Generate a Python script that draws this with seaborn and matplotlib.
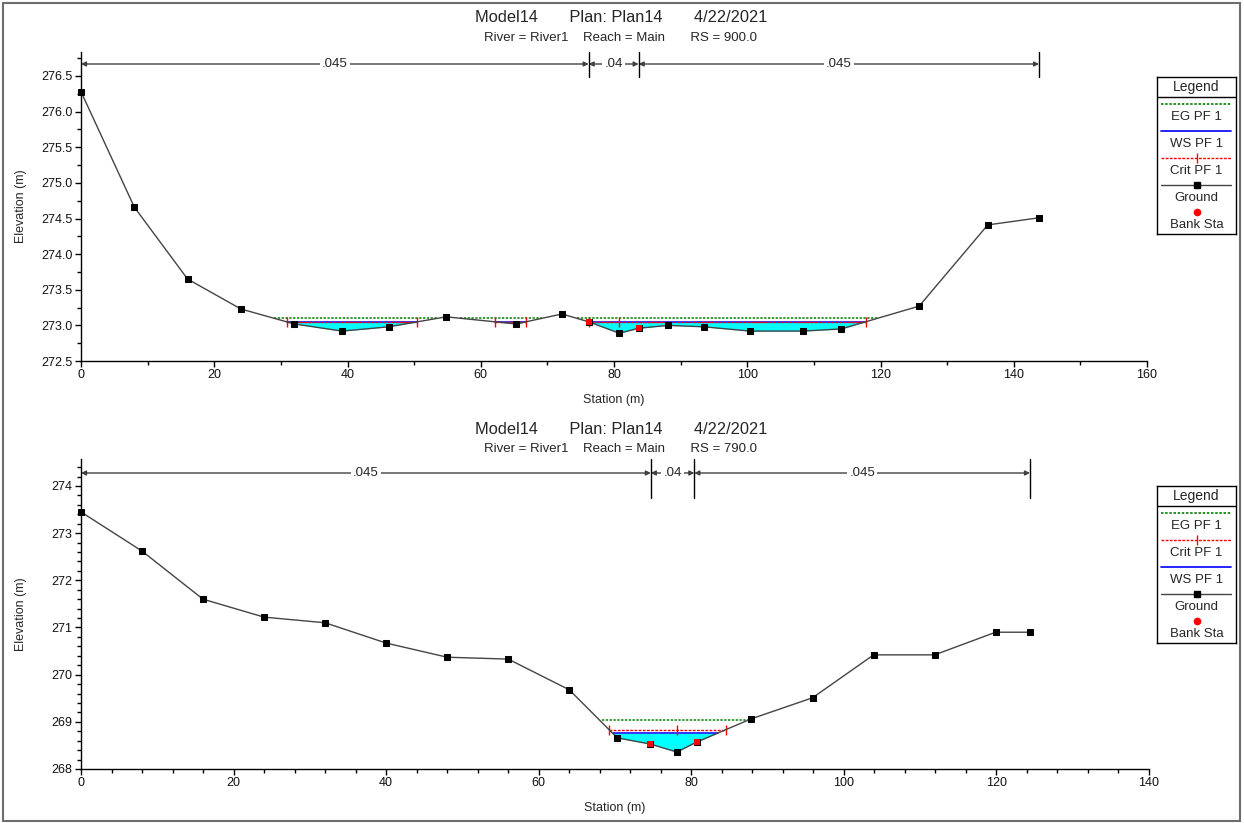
import numpy as np
import seaborn as sns
import matplotlib.pyplot as plt
from matplotlib.patches import Rectangle
from matplotlib.ticker import MultipleLocator

# ---- section RS 900.0 ----
sta_900 = [0, 8, 16, 24, 32, 39.2, 46.2, 54.8, 65.3, 72.2, 76.2, 80.8, 83.7,
           88.1, 93.5, 100.4, 108.4, 114.1, 125.8, 136.1, 143.8]
elev_900 = [276.28, 274.66, 273.65, 273.23, 273.02, 272.92, 272.98, 273.12, 273.02,
            273.16, 273.05, 272.89, 272.96, 273.00, 272.98, 272.92, 272.92, 272.95,
            273.27, 274.41, 274.51]
bank_900 = [76.2, 83.7]
bank_elev_900 = [273.05, 272.96]
ws_900 = 273.05
crit_900 = 273.05
eg_900 = 273.10
ws_seg_900 = [(30.9, 50.5), (62.1, 66.8), (76.2, 117.8)]
crit_pts_900 = [[30.9, 50.5], [62.1, 66.8], [76.2, 80.8, 117.8]]
eg_seg_900 = [(29.0, 53.6), (56.9, 69.2), (74.4, 119.6)]
n_bounds_900 = [0, 76.2, 83.7, 143.8]
n_vals_900 = [".045", ".04", ".045"]

# ---- section RS 790.0 ----
sta_790 = [0, 8, 16, 24, 32, 40, 48, 56, 64, 70.3, 74.6, 78.1, 80.7, 87.8, 95.9,
           103.9, 111.9, 119.9, 124.4]
elev_790 = [273.45, 272.62, 271.60, 271.22, 271.10, 270.67, 270.37, 270.33, 269.68,
            268.66, 268.53, 268.36, 268.57, 269.06, 269.51, 270.42, 270.42, 270.90,
            270.90]
bank_790 = [74.6, 80.7]
bank_elev_790 = [268.53, 268.57]
ws_790 = 268.76
crit_790 = 268.83
eg_790 = 269.04
ws_seg_790 = [(69.7, 83.45)]
crit_pts_790 = [[69.25, 78.1, 84.5]]
eg_seg_790 = [(68.3, 87.5)]
n_bounds_790 = [0, 74.7, 80.4, 124.4]
n_vals_790 = [".045", ".04", ".045"]

sns.set_theme(style="white")
plt.rcParams['font.family'] = ['Liberation Sans', 'DejaVu Sans']

W, H = 1244, 823
fig = plt.figure(figsize=(W / 100, H / 100), dpi=100)
fig.patches.append(Rectangle((3 / W, 2 / H), 1 - 7 / W, 1 - 5 / H, transform=fig.transFigure,
                             fill=False, edgecolor='#6e6e6e', linewidth=1.5))

GREEN = '#008000'
BLUE = '#0000ff'
RED = '#ff0000'
CYAN = '#00ffff'


def px_axes(left, top, right, bottom):
    return fig.add_axes([left / W, 1 - bottom / H, (right - left) / W, (bottom - top) / H])


def draw_section(ax, sta, elev, bank, bank_elev, ws, crit, eg, ws_seg, crit_pts, eg_seg,
                 bounds, nvals, arrow_y, div_low):
    sta = np.array(sta)
    elev = np.array(elev)
    # water fill
    for a, b in ws_seg:
        xs = np.concatenate([[a], sta[(sta > a) & (sta < b)], [b]])
        ax.fill_between(xs, ws, np.interp(xs, sta, elev), color=CYAN, linewidth=0, zorder=1)
    for a, b in eg_seg:
        ax.plot([a, b], [eg, eg], color=GREEN, lw=1.1, ls=(0, (1.5, 1)), zorder=2)
    for a, b in ws_seg:
        ax.plot([a, b], [ws, ws], color=BLUE, lw=1.1, zorder=2)
    for pts in crit_pts:
        ax.plot(pts, [crit] * len(pts), color=RED, lw=1.0, ls=(0, (2, 1)), marker='|',
                markersize=7, markeredgewidth=1.0, zorder=3)
    sns.lineplot(x=sta, y=elev, ax=ax, color='#444444', lw=1.0, marker='s', markersize=4.6,
                 markerfacecolor='black', markeredgecolor='black', sort=False, zorder=4,
                 clip_on=False)
    sns.scatterplot(x=bank, y=bank_elev, ax=ax, marker='s', s=22, color=RED, edgecolor=RED,
                    linewidth=0, zorder=5)
    # Manning's n brackets
    top = ax.get_ylim()[1]
    for xb in bounds[1:]:
        ax.plot([xb, xb], [top, div_low], color='black', lw=1.0, clip_on=False, zorder=6)
    for (a, b), lab in zip(zip(bounds[:-1], bounds[1:]), nvals):
        ax.annotate('', xy=(a, arrow_y), xytext=(b, arrow_y),
                    arrowprops=dict(arrowstyle='<|-|>', color='#404040', lw=1.0,
                                    shrinkA=0, shrinkB=0, mutation_scale=7), annotation_clip=False)
        ax.text((a + b) / 2, arrow_y, lab, ha='center', va='center', fontsize=9.5,
                bbox=dict(facecolor='white', edgecolor='none', pad=1.5), zorder=7)
    sns.despine(ax=ax)
    for s in ['left', 'bottom']:
        ax.spines[s].set_color('black')
        ax.spines[s].set_linewidth(1.0)
    ax.tick_params(which='both', direction='out', color='black', labelsize=9, width=1.0,
                   left=True, bottom=True, labelcolor='#111111')
    ax.tick_params(which='major', length=4, pad=2)
    ax.tick_params(which='minor', length=3)
    ax.set_xlabel('Station (m)', fontsize=9)
    ax.set_ylabel('Elevation (m)', fontsize=9)
    ax.grid(False)


def draw_legend(left, top, entries):
    hbox = 20 + 27 * len(entries) + 2
    lax = px_axes(left, top, left + 79, top + hbox)
    lax.set_xlim(0, 79)
    lax.set_ylim(hbox, 0)
    lax.set_xticks([])
    lax.set_yticks([])
    for s in lax.spines.values():
        s.set_color('black')
        s.set_linewidth(1.0)
    lax.text(39.5, 10, 'Legend', ha='center', va='center', fontsize=10)
    lax.axhline(20, color='black', lw=1.0)
    for i, name in enumerate(entries):
        ly = 20 + 7 + 27 * i
        ty = 20 + 20 + 27 * i
        if name == 'EG PF 1':
            lax.plot([4, 74], [ly, ly], color=GREEN, lw=1.2, ls=(0, (1.5, 1)))
        elif name == 'WS PF 1':
            lax.plot([4, 74], [ly, ly], color=BLUE, lw=1.2)
        elif name == 'Crit PF 1':
            lax.plot([4, 74], [ly, ly], color=RED, lw=1.0, ls=(0, (2, 1)))
            lax.plot([39.5], [ly], color=RED, marker='|', markersize=7)
        elif name == 'Ground':
            lax.plot([4, 74], [ly, ly], color='#444444', lw=1.0)
            lax.plot([39.5], [ly], color='black', marker='s', markersize=4.6)
        else:
            lax.plot([39.5], [ly], color=RED, marker='o', markersize=4.5)
        lax.text(39.5, ty, name, ha='center', va='center', fontsize=9.5)


title = 'Model14       Plan: Plan14       4/22/2021'

# top panel
ax1 = px_axes(81, 52, 1147, 361)
ax1.set_xlim(0, 160)
ax1.set_ylim(272.5, 276.5 + 24 / 71.25)
ax1.xaxis.set_major_locator(MultipleLocator(20))
ax1.xaxis.set_minor_locator(MultipleLocator(10))
ax1.set_yticks(np.arange(272.5, 276.51, 0.5))
ax1.yaxis.set_minor_locator(MultipleLocator(0.25))
ax1.yaxis.set_major_formatter(lambda v, p: f'{v:.1f}')
draw_section(ax1, sta_900, elev_900, bank_900, bank_elev_900, ws_900, crit_900, eg_900,
             ws_seg_900, crit_pts_900, eg_seg_900, n_bounds_900, n_vals_900,
             276.5 + 12 / 71.25, 276.5 - 1 / 71.25)
ax1.xaxis.set_label_coords(0.5, -33 / 309)
ax1.yaxis.set_label_coords(-54 / 1066, 0.5)
fig.text(621 / W, 1 - 18 / H, title, ha='center', va='center', fontsize=11.8)
fig.text(621 / W, 1 - 38 / H, 'River = River1    Reach = Main       RS = 900.0', ha='center', va='center', fontsize=9.5)
draw_legend(1157, 77, ['EG PF 1', 'WS PF 1', 'Crit PF 1', 'Ground', 'Bank Sta'])

# bottom panel
ax2 = px_axes(81, 459, 1149, 769)
ax2.set_xlim(0, 140)
ax2.set_ylim(268, 274 + 27 / 47.17)
ax2.xaxis.set_major_locator(MultipleLocator(20))
ax2.xaxis.set_minor_locator(MultipleLocator(4))
ax2.yaxis.set_major_locator(MultipleLocator(1))
ax2.yaxis.set_minor_locator(MultipleLocator(0.2))
ax2.yaxis.set_major_formatter(lambda v, p: f'{v:.0f}')
draw_section(ax2, sta_790, elev_790, bank_790, bank_elev_790, ws_790, crit_790, eg_790,
             ws_seg_790, crit_pts_790, eg_seg_790, n_bounds_790, n_vals_790,
             274 + 13 / 47.17, 274 - 12 / 47.17)
ax2.xaxis.set_label_coords(0.5, -33 / 310)
ax2.yaxis.set_label_coords(-54 / 1068, 0.5)
fig.text(621 / W, 1 - 430 / H, title, ha='center', va='center', fontsize=11.8)
fig.text(621 / W, 1 - 449 / H, 'River = River1    Reach = Main       RS = 790.0', ha='center', va='center', fontsize=9.5)
draw_legend(1157, 486, ['EG PF 1', 'Crit PF 1', 'WS PF 1', 'Ground', 'Bank Sta'])

fig.savefig('out.png', dpi=100)
